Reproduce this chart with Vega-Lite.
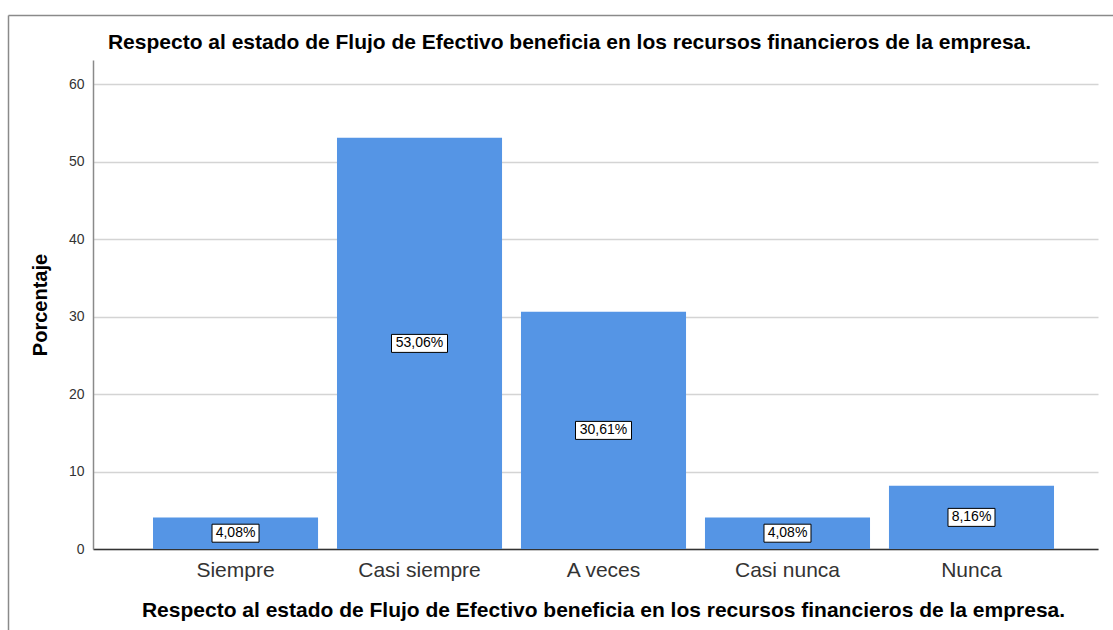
{
  "$schema": "https://vega.github.io/schema/vega-lite/v6.json",
  "width": 1005,
  "height": 489,
  "autosize": {"type": "none"},
  "padding": {"left": 93, "top": 60, "right": 15, "bottom": 81},
  "background": "white",
  "title": {
    "text": "Respecto al estado de Flujo de Efectivo beneficia en los recursos financieros de la empresa.",
    "font": "Liberation Sans",
    "fontSize": 21,
    "fontWeight": "bold",
    "color": "#000000",
    "anchor": "middle",
    "dx": -26,
    "baseline": "alphabetic",
    "offset": -55
  },
  "config": {
    "view": {"stroke": null},
    "font": "Liberation Sans"
  },
  "data": {
    "values": [
      {"cat": "Siempre", "pct": 4.08, "label": "4,08%"},
      {"cat": "Casi siempre", "pct": 53.06, "label": "53,06%"},
      {"cat": "A veces", "pct": 30.61, "label": "30,61%"},
      {"cat": "Casi nunca", "pct": 4.08, "label": "4,08%"},
      {"cat": "Nunca", "pct": 8.16, "label": "8,16%"}
    ]
  },
  "resolve": {"scale": {"x": "independent", "y": "independent"}, "axis": {"x": "independent", "y": "independent"}},
  "layer": [
    {
      "mark": {"type": "rule", "opacity": 0},
      "encoding": {
        "x": {"datum": 0, "type": "quantitative",
          "scale": {"domain": [0, 1], "range": [-85, 1030], "nice": false, "zero": false},
          "axis": {"orient": "top", "offset": 45, "grid": false, "ticks": false, "labels": false, "title": null, "domainColor": "#8a8a8a", "domainWidth": 1.5}},
        "y": {"datum": 0, "type": "quantitative",
          "scale": {"domain": [0, 1], "range": [620, -45], "nice": false, "zero": false},
          "axis": {"orient": "left", "offset": 85, "grid": false, "ticks": false, "labels": false, "title": null, "domainColor": "#8a8a8a", "domainWidth": 1.5}}
      }
    },
    {
      "layer": [
        {
          "mark": {"type": "bar", "color": "#5595e5"},
          "encoding": {
            "x": {"field": "cat", "type": "nominal", "sort": null,
              "scale": {"paddingInner": 0.103, "paddingOuter": 0.2826, "align": 0.577},
              "axis": {"orient": "bottom", "title": "Respecto al estado de Flujo de Efectivo beneficia en los recursos financieros de la empresa.",
                "titleFont": "Liberation Sans", "titleFontSize": 21, "titleFontWeight": "bold", "titleColor": "#000000",
                "titlePadding": 19, "titleX": 510,
                "labelFont": "Liberation Sans", "labelFontSize": 21, "labelColor": "#333333", "labelPadding": 10, "labelAngle": 0,
                "ticks": false, "domainColor": "#333333", "domainWidth": 1.5, "grid": false}},
            "y": {"field": "pct", "type": "quantitative",
              "scale": {"domain": [0, 63.1], "nice": false},
              "axis": {"orient": "left", "title": "Porcentaje", "titleFont": "Liberation Sans", "titleFontSize": 20, "titleFontWeight": "bold", "titleColor": "#000000",
                "titlePadding": 18,
                "values": [0, 10, 20, 30, 40, 50, 60],
                "labelFont": "Liberation Sans", "labelFontSize": 14, "labelColor": "#333333", "labelPadding": 9,
                "ticks": false, "domainColor": "#8a8a8a", "domainWidth": 1.5,
                "grid": true, "gridColor": "#d4d4d4", "gridWidth": 1.5}}
          }
        },
        {
          "transform": [{"calculate": "datum.pct / 2", "as": "mid"}, {"filter": "datum.pct >= 10"}],
          "mark": {"type": "rect", "fill": "white", "stroke": "#000000", "strokeWidth": 1, "width": 56, "height": 18},
          "encoding": {
            "x": {"field": "cat", "type": "nominal", "sort": null},
            "y": {"field": "mid", "type": "quantitative"}
          }
        },
        {
          "transform": [{"calculate": "datum.pct / 2", "as": "mid"}, {"filter": "datum.pct < 10"}],
          "mark": {"type": "rect", "fill": "white", "stroke": "#000000", "strokeWidth": 1, "width": 47, "height": 18},
          "encoding": {
            "x": {"field": "cat", "type": "nominal", "sort": null},
            "y": {"field": "mid", "type": "quantitative"}
          }
        },
        {
          "transform": [{"calculate": "datum.pct / 2", "as": "mid"}],
          "mark": {"type": "text", "font": "Liberation Sans", "fontSize": 14, "color": "#000000", "baseline": "middle", "align": "center"},
          "encoding": {
            "x": {"field": "cat", "type": "nominal", "sort": null},
            "y": {"field": "mid", "type": "quantitative"},
            "text": {"field": "label"}
          }
        }
      ]
    }
  ]
}
